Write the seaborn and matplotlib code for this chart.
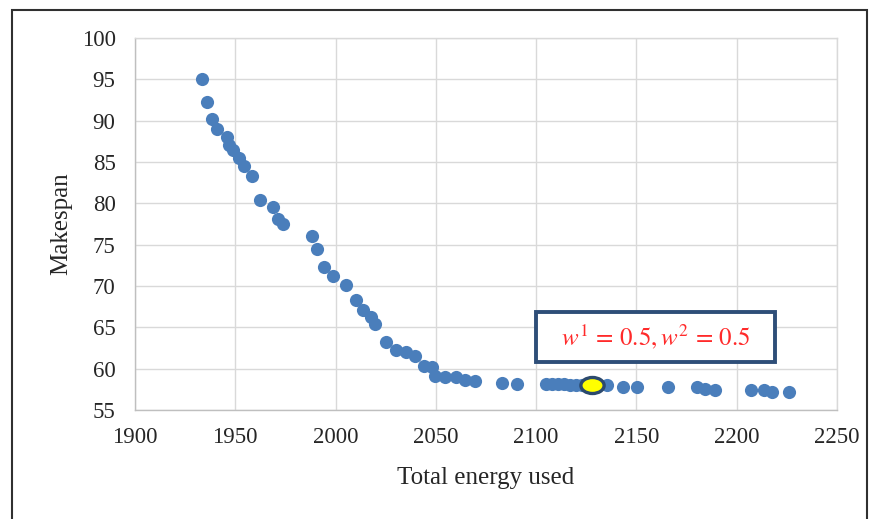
import matplotlib
matplotlib.use("Agg")
import matplotlib.pyplot as plt
import seaborn as sns
import pandas as pd
from matplotlib.patches import Rectangle
from matplotlib.path import Path
from matplotlib.markers import MarkerStyle
import matplotlib.transforms as mtransforms

energy = [1933.2, 1936.0, 1938.2, 1940.7, 1945.7, 1947.0, 1949.0, 1952.0, 1954.3, 1958.3,
          1962.3, 1968.9, 1971.4, 1973.9, 1988.1, 1990.9, 1994.4, 1998.6, 2005.2, 2010.2,
          2013.8, 2017.5, 2019.6, 2025.1, 2030.0, 2035.1, 2039.6, 2044.1, 2048.1, 2049.6,
          2054.5, 2060.0, 2064.5, 2069.5, 2082.8, 2090.3, 2105.0, 2108.0, 2111.0, 2114.0,
          2117.0, 2120.0, 2123.0, 2135.1, 2143.4, 2150.4, 2165.9, 2180.3, 2184.2, 2189.1,
          2206.9, 2213.5, 2217.4, 2226.2]
makespan = [95.0, 92.2, 90.2, 89.0, 88.0, 87.1, 86.5, 85.5, 84.5, 83.3,
            80.4, 79.5, 78.1, 77.5, 76.1, 74.5, 72.3, 71.2, 70.1, 68.3,
            67.1, 66.2, 65.4, 63.2, 62.2, 62.0, 61.5, 60.3, 60.2, 59.1,
            59.0, 59.0, 58.6, 58.5, 58.3, 58.2, 58.2, 58.2, 58.1, 58.1,
            58.0, 58.0, 58.0, 58.0, 57.8, 57.8, 57.8, 57.8, 57.6, 57.4,
            57.4, 57.4, 57.2, 57.2]
selected_energy = [2127.6]
selected_makespan = [58.0]
x_ticks = [1900, 1950, 2000, 2050, 2100, 2150, 2200, 2250]
y_ticks = [55, 60, 65, 70, 75, 80, 85, 90, 95, 100]
annotation = r"$w^1\,=\,0.5,w^2\,=\,0.5$"

sns.set_style("white")
plt.rcParams['font.family'] = ['Liberation Serif', 'DejaVu Serif']
plt.rcParams['mathtext.fontset'] = 'stix'

fig = plt.figure(figsize=(8.79, 5.19), dpi=100)
ax = fig.add_axes([135/879, 1-410/519, (837-135)/879, (410-38)/519])

df = pd.DataFrame({"energy": energy, "makespan": makespan})
sns.scatterplot(data=df, x="energy", y="makespan", ax=ax, color="#4a7ebb",
                s=90, edgecolor="#4a7ebb", linewidth=0, zorder=3)

ell = Path.unit_circle().transformed(mtransforms.Affine2D().scale(1.45, 1.0))
sel = pd.DataFrame({"energy": selected_energy, "makespan": selected_makespan})
sns.scatterplot(data=sel, x="energy", y="makespan", ax=ax, marker=MarkerStyle(ell),
                s=280, color="#ffff00", edgecolor="#2c4a6e", linewidth=2.4, zorder=4)

ax.set_xlim(1900, 2250)
ax.set_ylim(55, 100)
ax.set_xticks(x_ticks)
ax.set_yticks(y_ticks)
ax.set_xticklabels([str(v) for v in x_ticks], fontsize=16.5)
ax.set_yticklabels([str(v) for v in y_ticks], fontsize=16.5)
ax.tick_params(axis='x', length=0, pad=12)
ax.tick_params(axis='y', length=0, pad=14)
ax.grid(True, color="#d9d9d9", linewidth=1.0)
ax.set_axisbelow(True)
for sp in ax.spines.values():
    sp.set_color("#d9d9d9")
    sp.set_linewidth(1.0)
ax.spines['left'].set_color("#bfbfbf")
ax.spines['bottom'].set_color("#bfbfbf")

ax.set_xlabel("Total energy used", fontsize=18, labelpad=14)
ax.set_ylabel("Makespan", fontsize=18, labelpad=7)

# annotation box
ax.add_patch(Rectangle((2100, 60.8), 119, 6.1, fill=True, facecolor="white",
                       edgecolor="#2e4e78", linewidth=2.8, zorder=5))
ax.text(2159.5, 63.85, annotation, color="#ff2a2a", fontsize=18, ha="center",
        va="center", zorder=6)

# outer frame
fig.patches.append(Rectangle((12/879, -0.05), (867-12)/879, 1.05 - 10/519,
                             transform=fig.transFigure, fill=False,
                             edgecolor="#303030", linewidth=1.5))

fig.savefig("out.png", dpi=100)
